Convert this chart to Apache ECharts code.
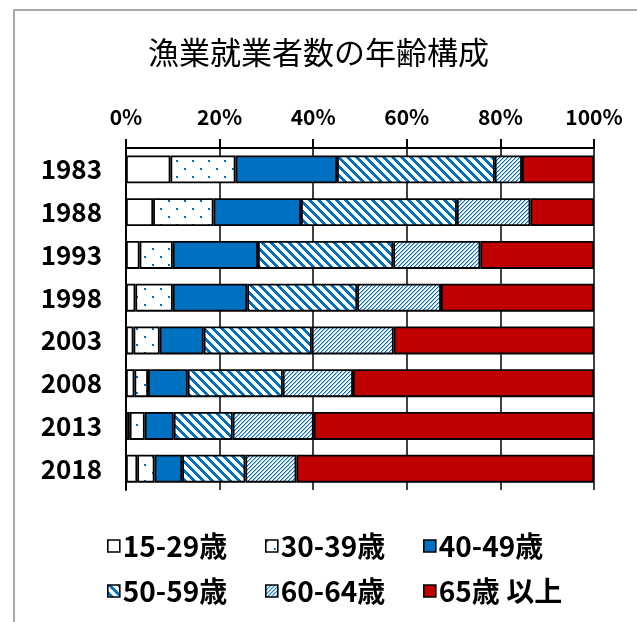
<!DOCTYPE html>
<html>
<head>
<meta charset="utf-8">
<script src="https://cdn.jsdelivr.net/npm/echarts@6/dist/echarts.min.js"></script>
<style>
    html, body { margin: 0; padding: 0; background: #fff; }
    #chartmain { width: 637px; height: 622px; }
</style>
</head>
<body>
<div id="chartmain"></div>
<script>
var years = ['1983', '1988', '1993', '1998', '2003', '2008', '2013', '2018'];
var groups = ['15-29歳', '30-39歳', '40-49歳', '50-59歳', '60-64歳', '65歳 以上'];
var xTicks = [0, 20, 40, 60, 80, 100];

// 構成比（%）
var age15to29 = [9.5, 5.8, 2.9, 2.0, 1.6, 1.8, 0.8, 2.4];
var age30to39 = [13.9, 12.9, 7.1, 8.0, 5.6, 2.9, 3.2, 3.7];
var age40to49 = [21.7, 18.7, 18.2, 15.9, 9.4, 8.5, 6.2, 5.9];
var age50to59 = [33.7, 33.3, 28.9, 23.5, 23.1, 20.3, 12.6, 13.5];
var age60to64 = [5.8, 15.7, 18.6, 17.9, 17.5, 15.0, 17.3, 10.9];
var age65over = [15.4, 13.6, 24.3, 32.7, 42.8, 51.5, 59.9, 63.6];

var BLUE = [0, 112, 192];
var LIGHT = [150, 192, 232];
var WHITE = [255, 255, 255];
var FONT = '"Noto Sans CJK JP", "Noto Sans", sans-serif';

// 塗りつぶしパターン（小さな canvas を敷き詰める）
function makeTile(w, h, pick) {
    var c = document.createElement('canvas');
    c.width = w;
    c.height = h;
    var ctx = c.getContext('2d');
    var img = ctx.createImageData(w, h);
    for (var y = 0; y < h; y++) {
        for (var x = 0; x < w; x++) {
            var col = pick(x, y) || WHITE;
            var k = (y * w + x) * 4;
            img.data[k] = col[0];
            img.data[k + 1] = col[1];
            img.data[k + 2] = col[2];
            img.data[k + 3] = 255;
        }
    }
    ctx.putImageData(img, 0, 0);
    return {image: c, repeat: 'repeat'};
}

var dotFill = makeTile(16, 16, function (x, y) {
    if ((x < 2 && y < 2) || (x >= 8 && x < 10 && y >= 8 && y < 10)) return BLUE;
});
var wideStripe = makeTile(9, 9, function (x, y) {
    var m = ((x - y) % 9 + 9) % 9;
    if (m < 4) return BLUE;
});
var thinStripe = makeTile(4, 4, function (x, y) {
    var m = (x + y) % 4;
    if (m === 0) return BLUE;
    if (m === 1) return LIGHT;
});

var fills = ['#ffffff', dotFill, '#0070c0', wideStripe, thinStripe, '#c00000'];
var values = [age15to29, age30to39, age40to49, age50to59, age60to64, age65over];

var series = [];
for (var i = 0; i < groups.length; i++) {
    series.push({
        name: groups[i],
        type: 'bar',
        stack: 'total',
        barWidth: 28,
        data: values[i],
        itemStyle: {
            color: fills[i],
            borderColor: '#000',
            borderWidth: 1.8
        },
        emphasis: {disabled: true}
    });
}

// 凡例は位置を固定したいので 1 項目ずつ
var legendPos = [[107, 532], [265, 532], [423, 532], [107, 577], [265, 577], [423, 577]];
var legends = [];
for (var j = 0; j < groups.length; j++) {
    legends.push({
        data: [groups[j]],
        left: legendPos[j][0],
        top: legendPos[j][1],
        icon: 'rect',
        itemWidth: 12,
        itemHeight: 12,
        itemGap: 0,
        padding: 0,
        itemStyle: {borderColor: '#000', borderWidth: 1.6},
        textStyle: {
            fontFamily: FONT,
            fontSize: 28,
            fontWeight: 'bold',
            color: '#000',
            padding: [0, 0, 0, -2]
        },
        selectedMode: false
    });
}

var option = {
    animation: false,
    backgroundColor: '#fff',
    title: {
        text: '漁業就業者数の年齢構成',
        left: 143,
        top: 32,
        textStyle: {
            fontFamily: FONT,
            fontSize: 31,
            fontWeight: 'normal',
            color: '#000'
        }
    },
    graphic: [{
        type: 'rect',
        shape: {x: 14, y: 10, width: 700, height: 700},
        style: {fill: 'none', stroke: '#8c8c8c', lineWidth: 1.5},
        silent: true
    }],
    legend: legends,
    grid: {left: 126, right: 43, top: 148, height: 342},
    xAxis: {
        type: 'value',
        position: 'top',
        min: xTicks[0],
        max: xTicks[xTicks.length - 1],
        interval: xTicks[1] - xTicks[0],
        axisLine: {show: true, lineStyle: {color: '#000', width: 2}},
        axisTick: {show: true, inside: false, length: 9, lineStyle: {color: '#000', width: 2}},
        splitLine: {show: true, lineStyle: {color: '#000', width: 1.5}},
        axisLabel: {
            formatter: '{value}%',
            margin: 20,
            fontFamily: FONT,
            fontSize: 21,
            fontWeight: 'bold',
            color: '#000'
        }
    },
    yAxis: {
        type: 'category',
        inverse: true,
        data: years,
        axisLine: {show: true, lineStyle: {color: '#000', width: 2}},
        axisTick: {show: false},
        axisLabel: {
            margin: 24,
            fontFamily: FONT,
            fontSize: 26,
            fontWeight: 'bold',
            color: '#000'
        }
    },
    series: series
};

var myChart = echarts.init(document.getElementById('chartmain'));
myChart.setOption(option);
</script>
</body>
</html>
